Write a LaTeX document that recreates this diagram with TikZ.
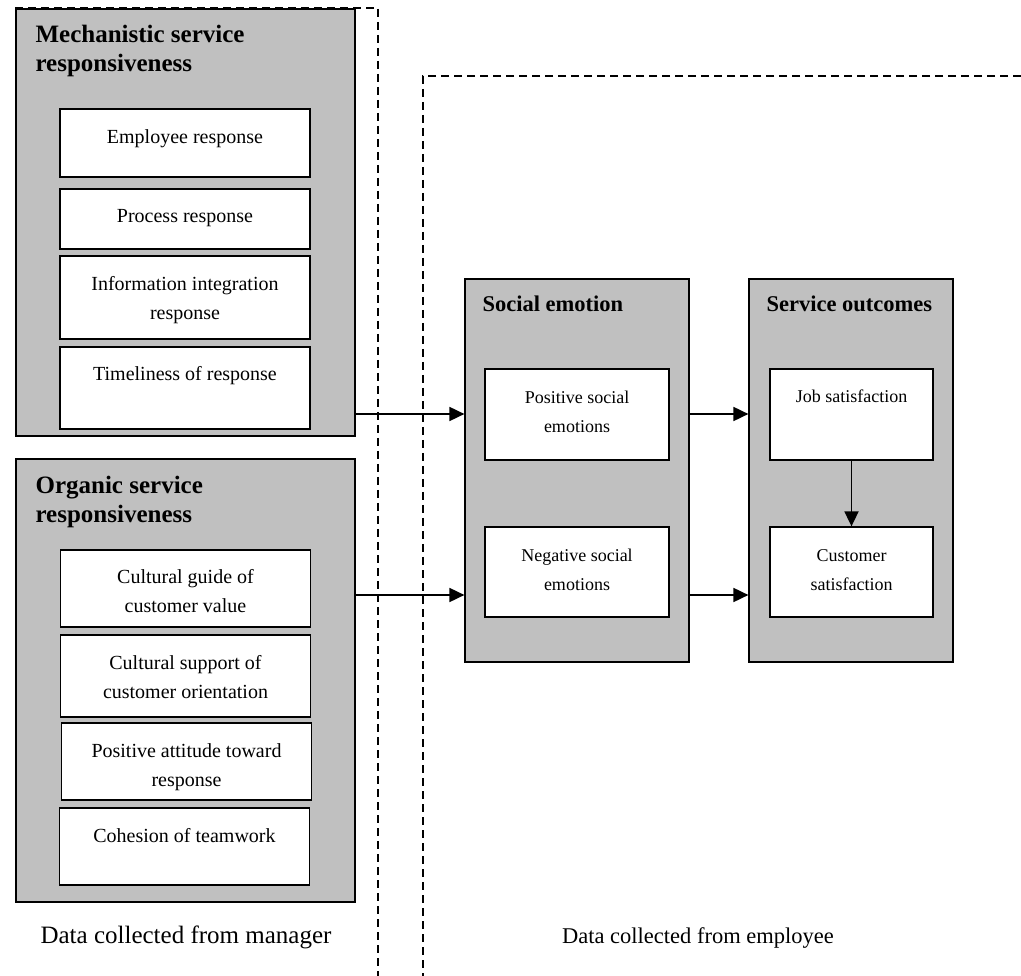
\documentclass[tikz,border=0pt]{standalone}
\usepackage{fontspec}
\setmainfont{Liberation Serif}
\usetikzlibrary{arrows.meta}
\definecolor{panelgrey}{HTML}{C0C0C0}
\begin{document}
\begin{tikzpicture}[x=1pt,y=-1pt,
  panel/.style={draw=black, line width=1.2pt, fill=panelgrey, rectangle, inner sep=0pt},
  wbox/.style={draw=black, line width=1.3pt, fill=white, rectangle, inner sep=0pt, minimum width=250pt},
  rbox/.style={draw=black, line width=1.3pt, fill=white, rectangle, inner sep=0pt},
  zone/.style={draw=black, line width=1.2pt, dash pattern=on 8pt off 5pt},
  link/.style={draw=black, line width=1.8pt, -{Triangle[length=15pt,width=14pt]}},
  lhead/.style={inner sep=0pt, align=left, anchor=base west, font=\fontsize{25}{29}\selectfont\bfseries},
  rhead/.style={inner sep=0pt, align=left, anchor=base west, font=\fontsize{22.5}{29}\selectfont\bfseries},
  ltxt/.style={inner sep=0pt, align=center, anchor=base, font=\fontsize{20}{29.5}\selectfont},
  rtxt/.style={inner sep=0pt, align=center, anchor=base, font=\fontsize{18}{29}\selectfont},
  captxt/.style={inner sep=0pt, anchor=base}]
\useasboundingbox (0,0) rectangle (1021,976);

% dashed data zones
\coordinate (z1a) at (15,8);
\coordinate (z1b) at (378,8);
\coordinate (z1c) at (378,976);
\coordinate (z2a) at (1021,76);
\coordinate (z2b) at (423,76);
\coordinate (z2c) at (423,976);
\draw[zone] (z1a) -- (z1b) -- (z1c);
\draw[zone] (z2a) -- (z2b) -- (z2c);

% panels
\node[panel, minimum width=339pt, minimum height=427pt] (mech) at (185.5,222.5) {};
\node[panel, minimum width=339pt, minimum height=443pt] (org) at (185.5,680.5) {};
\node[panel, minimum width=224pt, minimum height=383pt] (soc) at (577,470.5) {};
\node[panel, minimum width=204pt, minimum height=383pt] (out) at (851,470.5) {};

% headings (base anchor = last line)
\node[lhead] (mechh) at ([xshift=20pt,yshift=-63pt]mech.north west) {Mechanistic service\\responsiveness};
\node[lhead] (orgh) at ([xshift=20pt,yshift=-64pt]org.north west) {Organic service\\responsiveness};
\node[rhead] (soch) at ([xshift=18pt,yshift=-33pt]soc.north west) {Social emotion};
\node[rhead] (outh) at ([xshift=18pt,yshift=-33pt]out.north west) {Service outcomes};

% mechanistic items
\node[wbox, minimum height=68pt] (e1) at (185,143) {};
\node[wbox, minimum height=60pt] (e2) at (185,219) {};
\node[wbox, minimum height=83pt] (e3) at (185,297.5) {};
\node[wbox, minimum height=82pt] (e4) at (185,388) {};
\node[ltxt] (e1t) at ([yshift=-35pt]e1.north) {Employee response};
\node[ltxt] (e2t) at ([yshift=-34pt]e2.north) {Process response};
\node[ltxt] (e3t) at ([yshift=-64.5pt]e3.north) {Information integration\\response};
\node[ltxt] (e4t) at ([yshift=-34pt]e4.north) {Timeliness of response};

% organic items
\node[wbox, minimum height=77pt] (o1) at (185.5,588.5) {};
\node[wbox, minimum height=82pt] (o2) at (185.5,676) {};
\node[wbox, minimum height=77pt] (o3) at (186.5,761.5) {};
\node[wbox, minimum height=77pt] (o4) at (184.5,846.5) {};
\node[ltxt] (o1t) at ([yshift=-63.5pt]o1.north) {Cultural guide of\\customer value};
\node[ltxt] (o2t) at ([yshift=-64.5pt]o2.north) {Cultural support of\\customer orientation};
\node[ltxt] (o3t) at ([yshift=-64.5pt]o3.north) {Positive attitude toward\\response};
\node[ltxt] (o4t) at ([yshift=-35pt]o4.north) {Cohesion of teamwork};

% social emotion items
\node[rbox, minimum width=184pt, minimum height=91pt] (pos) at (577,414.5) {};
\node[rbox, minimum width=184pt, minimum height=90pt] (neg) at (577,572) {};
\node[rtxt] (post) at ([yshift=-64pt]pos.north) {Positive social\\emotions};
\node[rtxt] (negt) at ([yshift=-64pt]neg.north) {Negative social\\emotions};

% outcome items
\node[rbox, minimum width=163pt, minimum height=91pt] (job) at (851.5,414.5) {};
\node[rbox, minimum width=163pt, minimum height=90pt] (cust) at (851.5,572) {};
\node[rtxt] (jobt) at ([yshift=-34pt]job.north) {Job satisfaction};
\node[rtxt] (custt) at ([yshift=-64pt]cust.north) {Customer\\satisfaction};

% captions
\node[captxt, font=\fontsize{25}{29}\selectfont] (capm) at (186,943) {Data collected from manager};
\node[captxt, font=\fontsize{22.5}{29}\selectfont] (cape) at (698,943) {Data collected from employee};

% connectors
\coordinate (r1) at (0,414);
\coordinate (r2) at (0,595);
\draw[link] (mech.east |- r1) -- (soc.west |- r1);
\draw[link] (org.east |- r2) -- (soc.west |- r2);
\draw[link] (soc.east |- r1) -- (out.west |- r1);
\draw[link] (soc.east |- r2) -- (out.west |- r2);
\draw[link] (job.south) -- (cust.north);
\end{tikzpicture}
\end{document}
